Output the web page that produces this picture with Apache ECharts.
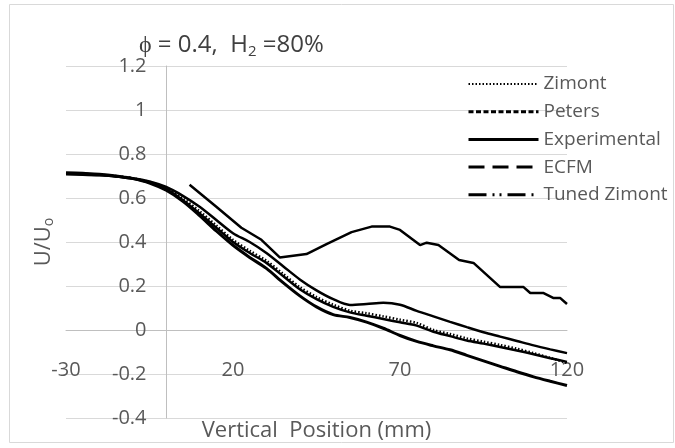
<!DOCTYPE html>
<html>
<head>
<meta charset="utf-8">
<script src="https://cdn.jsdelivr.net/npm/echarts@6/dist/echarts.min.js"></script>
<style>html,body{margin:0;padding:0;background:#fff}#c{width:675px;height:448px}</style>
</head>
<body>
<div id="c"></div>
<script>
const xModel = [-30,-25,-20,-15,-10,-5,0,5,10,15,20,25,30,35,40,45,50,55,60,65,70,75,80,85,90,95,100,105,110,115,120];
const zimont = [0.712,0.71,0.706,0.70,0.69,0.673,0.645,0.598,0.54,0.475,0.41,0.36,0.315,0.255,0.195,0.15,0.115,0.088,0.076,0.062,0.047,0.032,0.0,-0.018,-0.038,-0.053,-0.068,-0.085,-0.105,-0.127,-0.15];
const peters = [0.71,0.708,0.704,0.698,0.688,0.67,0.64,0.59,0.53,0.465,0.40,0.35,0.305,0.245,0.185,0.14,0.105,0.08,0.065,0.05,0.035,0.02,-0.008,-0.028,-0.048,-0.062,-0.077,-0.093,-0.11,-0.128,-0.145];
const ecfm = [0.715,0.712,0.708,0.70,0.688,0.668,0.635,0.585,0.52,0.45,0.385,0.33,0.28,0.215,0.155,0.105,0.07,0.057,0.036,0.008,-0.025,-0.052,-0.072,-0.09,-0.115,-0.14,-0.165,-0.19,-0.213,-0.233,-0.252];
const tunedZimont = [0.708,0.706,0.703,0.698,0.69,0.675,0.65,0.61,0.56,0.50,0.44,0.40,0.35,0.29,0.23,0.18,0.14,0.114,0.118,0.124,0.115,0.087,0.062,0.037,0.013,-0.01,-0.03,-0.05,-0.07,-0.088,-0.105];
const xExp = [7,15,22.5,28.5,34,42,48,55.5,61.5,67,70,76,78,81.5,87.7,92,100,107,109,113,116,118,120];
const experimental = [0.66,0.56,0.465,0.41,0.33,0.345,0.39,0.445,0.47,0.47,0.455,0.386,0.397,0.386,0.318,0.305,0.195,0.195,0.168,0.168,0.145,0.145,0.118];
const seriesNames = ['Zimont','Peters','Experimental','ECFM','Tuned Zimont'];

const pair = (xs, ys) => xs.map((x, i) => [x, ys[i]]);
const FONT = 'Open Sans';
const TXT = '#595959';

const chart = echarts.init(document.getElementById('c'));
chart.setOption({
  animation: false,
  backgroundColor: '#fff',
  textStyle: {fontFamily: FONT},
  title: {
    text: '{a|ϕ = 0.4,  H}{s|2}{a| =80%}',
    left: 134, top: 26,
    textStyle: {
      fontWeight: 'normal',
      rich: {
        a: {fontFamily: FONT, fontSize: 24, color: '#404040', fontWeight: 'normal'},
        s: {fontFamily: FONT, fontSize: 15, color: '#404040', fontWeight: 'normal', verticalAlign: 'bottom', padding: [13, 0, 0, 0]}
      }
    }
  },
  graphic: [{
    type: 'rect', left: 7, top: 2, shape: {width: 664, height: 438},
    style: {fill: 'none', stroke: '#d9d9d9', lineWidth: 1}, silent: true, z: -10
  }],
  legend: {
    orient: 'vertical', left: 462, top: 68,
    itemWidth: 70, itemHeight: 22, itemGap: 5.7,
    itemStyle: {opacity: 0},
    textStyle: {fontFamily: FONT, fontSize: 19, color: TXT, lineHeight: 22},
    data: [
      {name: 'Zimont', itemStyle: {opacity: 0}, lineStyle: {type: [1.5, 2], width: 2}},
      {name: 'Peters', itemStyle: {opacity: 0}, lineStyle: {type: [5, 2.5], width: 3}},
      {name: 'Experimental', itemStyle: {opacity: 0}, lineStyle: {type: 'solid', width: 3}},
      {name: 'ECFM', itemStyle: {opacity: 0}, lineStyle: {type: [16, 8], width: 3}},
      {name: 'Tuned Zimont', itemStyle: {opacity: 0}, lineStyle: {type: [18, 6, 2, 5, 2, 6], width: 3}}
    ]
  },
  grid: {left: 66, right: 108, top: 66, bottom: 30, containLabel: false, outerBoundsMode: 'none'},
  xAxis: {
    type: 'value', min: -30, max: 120, interval: 50,
    position: 'bottom', offset: -88,
    name: 'Vertical  Position (mm)', nameLocation: 'middle', nameGap: 90,
    nameTextStyle: {fontFamily: FONT, fontSize: 22, color: TXT},
    axisLine: {onZero: false, lineStyle: {color: '#bfbfbf', width: 1}},
    axisTick: {show: false},
    splitLine: {show: false},
    axisLabel: {margin: 30, fontFamily: FONT, fontSize: 20, color: TXT}
  },
  yAxis: {
    type: 'value', min: -0.4, max: 1.2, interval: 0.2,
    position: 'left', offset: -100.5,
    name: '{a|U/U}{s|o}', nameLocation: 'middle', nameGap: 110, nameRotate: 90,
    nameTextStyle: {
      rich: {
        a: {fontFamily: FONT, fontSize: 22, color: TXT},
        s: {fontFamily: FONT, fontSize: 14, color: TXT, verticalAlign: 'bottom', padding: [11, 0, 0, 0]}
      }
    },
    axisLine: {show: true, onZero: false, lineStyle: {color: '#bfbfbf', width: 1}},
    axisTick: {show: false},
    splitLine: {show: true, lineStyle: {color: '#d9d9d9', width: 1}},
    axisLabel: {margin: 20, fontFamily: FONT, fontSize: 20, color: TXT,
      formatter: v => String(Math.round(v * 10) / 10)}
  },
  series: [
    {name: 'Zimont', type: 'line', data: pair(xModel, zimont), showSymbol: false, symbol: 'none', smooth: 0.3,
      lineStyle: {color: '#000', width: 2.5, type: [1.5, 2]}, itemStyle: {color: '#000'}, z: 5},
    {name: 'Peters', type: 'line', data: pair(xModel, peters), showSymbol: false, symbol: 'none', smooth: 0.3,
      lineStyle: {color: '#000', width: 2.5, type: 'solid'}, itemStyle: {color: '#000'}},
    {name: 'Experimental', type: 'line', data: pair(xExp, experimental), showSymbol: false, symbol: 'none',
      lineStyle: {color: '#000', width: 2.5}, itemStyle: {color: '#000'}},
    {name: 'ECFM', type: 'line', data: pair(xModel, ecfm), showSymbol: false, symbol: 'none', smooth: 0.3,
      lineStyle: {color: '#000', width: 3, type: 'solid'}, itemStyle: {color: '#000'}},
    {name: 'Tuned Zimont', type: 'line', data: pair(xModel, tunedZimont), showSymbol: false, symbol: 'none', smooth: 0.3,
      lineStyle: {color: '#000', width: 2.5, type: 'solid'}, itemStyle: {color: '#000'}}
  ]
});
</script>
</body>
</html>
